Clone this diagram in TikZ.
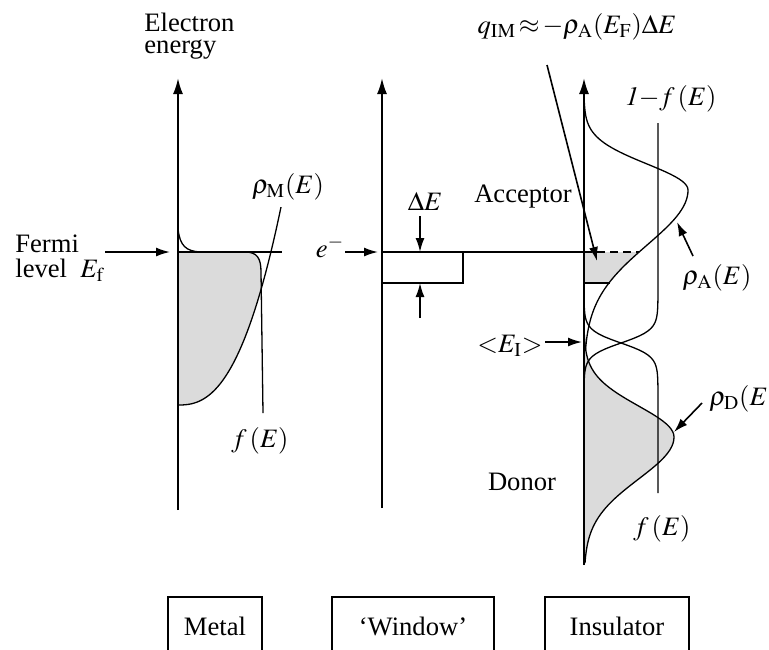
\documentclass[tikz,border=0pt]{standalone}
\usepackage{mathptmx}
\usepackage{fontspec}
\setmainfont{Liberation Serif}
\usetikzlibrary{arrows.meta}

\tikzset{
  axis/.style={line width=1pt,-{Latex[length=8pt,width=5pt]}},
  level/.style={line width=1pt},
  curve/.style={line width=0.65pt},
  pointer/.style={line width=0.8pt,-{Latex[length=7pt,width=4.5pt]}},
  lbl/.style={inner sep=0pt},
  sample/.style={draw,line width=0.9pt,minimum height=29pt,inner sep=0pt},
  filled/.style={fill=black!14}
}

\begin{document}
\begin{tikzpicture}[x=0.5pt,y=-0.5pt,font=\fontsize{13.3}{15}\selectfont]
        \useasboundingbox (0,0) rectangle (769,649);
        \clip (0,0) rectangle (769,649);

        % axes and levels
        \coordinate (m0) at (178,510);
        \coordinate (m1) at (178,78);
        \coordinate (mf) at (178,252);
        \coordinate (mr) at (282,252);
        \coordinate (w0) at (382,508);
        \coordinate (w1) at (382,78);
        \coordinate (wf) at (382,252);
        \coordinate (i0) at (584,565);
        \coordinate (i1) at (584,78);
        \coordinate (if) at (584,252);
        \coordinate (id) at (639,252);

        % metal
        \fill[filled] (mf) -- (245,252) .. controls (257,252) and (261,258) .. (261,272)
        -- (261,287) -- plot[domain=0.81:0,samples=30,variable=\u] ({178+103*\u},{405-198*\u*\u*sqrt(\u)}) -- cycle;
        \draw[curve] plot[domain=0:1,samples=40,variable=\u] ({178+103*\u},{405-198*\u*\u*sqrt(\u)});
        \draw[curve] (178,229) .. controls (180,246) and (186,251) .. (200,252) -- (245,252)
        .. controls (257,252) and (261,258) .. (261,272) -- (263,413);
        \draw[level] (mf) -- (mr);
        \draw[axis] (m0) -- (m1);

        \node[lbl,anchor=base west,align=left,font=\fontsize{13.3}{10.8}\selectfont] (energy) at (144,53) {Electron\\energy};
        \node[lbl,anchor=base west,align=left,font=\fontsize{13.3}{12.5}\selectfont] (fermi) at (15,277) {Fermi\\level~~$E_{\mathrm{f}}$};
        \coordinate (fa) at (105,252);
        \draw[pointer] (fa) -- (mf) [shorten >=4pt];
        \node[lbl,anchor=base] (rhoM) at (288,193) {$\rho_{\mathrm{M}}(E)$};
        \node[lbl,anchor=base] (fM) at (260,447) {$f\,(E)$};

        % window
        \draw[level] (wf) -- (if);
        \draw[level] (382,283) -- (463,283) -- (463,252);
        \draw[axis] (w0) -- (w1);
        \node[lbl,anchor=base] (elec) at (330,257) {$e^-$};
        \coordinate (ea) at (345,252);
        \draw[pointer] (ea) -- (wf) [shorten >=2pt];
        \node[lbl,anchor=base] (dE) at (425,210) {$\Delta E$};
        \coordinate (gapt) at (420,252);
        \coordinate (gapb) at (420,283);
        \coordinate (dEa) at (420,216);
        \coordinate (dEb) at (420,318);
        \draw[pointer] (dEa) -- (gapt);
        \draw[pointer] (dEb) -- (gapb);

        % insulator
        \fill[filled] (584,335) -- plot[domain=335:437,samples=40,variable=\y] ({584+90*exp(-0.5*((\y-437)/31)^2)},\y)
        -- plot[domain=437:565,samples=40,variable=\y] ({584+90*exp(-0.5*((\y-437)/42)^2)},\y) -- (i0) -- cycle;
        \draw[curve] plot[domain=335:437,samples=40,variable=\y] ({584+90*exp(-0.5*((\y-437)/31)^2)},\y)
        -- plot[domain=437:563,samples=40,variable=\y] ({584+90*exp(-0.5*((\y-437)/42)^2)},\y);
        \fill[filled] (if) -- plot[domain=252:283,samples=12,variable=\y] ({584+104*exp(-0.5*((\y-190)/55)^2)},\y) -- (584,283) -- cycle;
        \draw[curve] plot[domain=103:190,samples=40,variable=\y] ({584+104*exp(-0.5*((\y-190)/26)^2)},\y)
        -- plot[domain=190:350,samples=50,variable=\y] ({584+104*exp(-0.5*((\y-190)/55)^2)},\y);
        \draw[curve] (658,123) -- (658,300) -- plot[domain=300:400,samples=40,variable=\y] ({584+74/(1+exp((\y-343)/6.5))},\y);
        \draw[curve] plot[domain=286:390,samples=40,variable=\y] ({584+74/(1+exp(-(\y-343)/6.5))},\y) -- (658,493);
        \draw[level,dash pattern=on 4pt off 2.5pt] (if) -- (id);
        \draw[level] (584,283) -- (610,283);
        \draw[axis] (i0) -- (i1);

        \node[lbl,anchor=base] (q) at (577,33) {$q_{\mathrm{IM}}\!\approx\!{-}\rho_{\mathrm{A}}(E_{\mathrm{F}})\Delta E$};
        \coordinate (qa) at (547,65);
        \coordinate (qb) at (597,261);
        \draw[pointer] (qa) -- (qb);
        \node[lbl,anchor=base] (acc) at (523,202) {Acceptor};
        \node[lbl,anchor=base] (nf) at (671,105) {$\mathit{1}{-}f\,(E)$};
        \node[lbl,anchor=base] (rhoA) at (717,284) {$\rho_{\mathrm{A}}(E)$};
        \coordinate (rAa) at (693,256);
        \coordinate (rAb) at (677,222);
        \draw[pointer] (rAa) -- (rAb);
        \node[lbl,anchor=base] (EI) at (510,352) {${<}E_{\mathrm{I}}{>}$};
        \coordinate (eia) at (545,342);
        \coordinate (eib) at (582,342);
        \draw[pointer] (eia) -- (eib);
        \node[lbl,anchor=base west] (rhoD) at (709,405) {$\rho_{\mathrm{D}}(E)$};
        \coordinate (rDa) at (702,403);
        \coordinate (rDb) at (674,432);
        \draw[pointer] (rDa) -- (rDb);
        \node[lbl,anchor=base] (don) at (522,490) {Donor};
        \node[lbl,anchor=base] (fI) at (662,535) {$f\,(E)$};

        % sample boxes
        \node[sample,minimum width=47pt] (metal) at (215,626) {Metal};
        \node[sample,minimum width=81pt] (window) at (413,626) {‘Window’};
        \node[sample,minimum width=72pt] (insul) at (617,626) {Insulator};
\end{tikzpicture}
\end{document}
